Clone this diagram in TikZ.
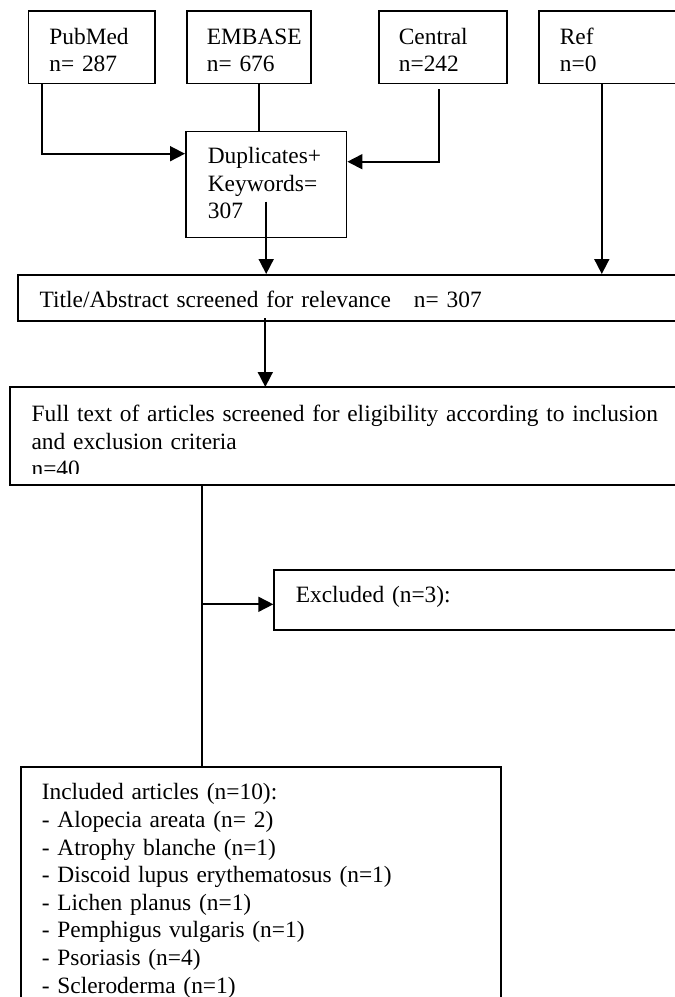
\documentclass[tikz,border=0pt]{standalone}
\usepackage{fontspec}
\setmainfont{Liberation Serif}
\usetikzlibrary{arrows.meta}

\tikzset{
  box/.style={draw, line width=1.7pt, anchor=north west, align=left,
    inner ysep=0pt, font={\fontsize{23.4}{27.6}\selectfont\hyphenpenalty=10000}},
  link/.style={line width=1.7pt},
  arr/.style={link, -{Triangle[length=15pt,width=15pt]}},
}

\begin{document}
\begin{tikzpicture}[x=1pt, y=-1pt]

      \useasboundingbox (0,0) rectangle (675,997);
      \clip (0,0) rectangle (675,997);

      % sources
      \node[box, inner xsep=21pt, text width=84.5pt, text height=33.3pt, text depth=39.2pt]
        (pub) at (27.5,10) {PubMed\\n= 287};
      \node[box, inner xsep=20pt, text width=84pt, text height=33.3pt, text depth=39.2pt]
        (emb) at (186,10) {EMBASE\\n= 676};
      \node[box, inner xsep=20pt, text width=88pt, text height=33.3pt, text depth=39.2pt]
        (cen) at (378,10) {Central\\n=242};
      \node[box, inner xsep=21pt, text width=158pt, text height=33.3pt, text depth=39.2pt]
        (ref) at (538,10) {Ref\\n=0};

      \node[box, inner xsep=22pt, text width=116.7pt, text height=32pt, text depth=74pt]
        (dup) at (185,130.7) {Duplicates+\\Keywords=\\307};

      % screening
      \node[box, inner xsep=21.5pt, text width=656pt, text height=32.5pt, text depth=13.5pt]
        (tit) at (17.3,274) {Title/Abstract screened for relevance\hspace{23pt}n= 307};

      \begin{scope}
        \clip (0,0) rectangle (675,473.3);
        \node[box, draw=none, inner xsep=20.7pt, text width=658.6pt, text height=33.7pt, text depth=62.8pt]
          (full) at (10,387) {Full text of articles screened for eligibility according to inclusion\\
            and exclusion criteria\\n=40};
      \end{scope}
      \draw[link] (full.north west) rectangle (full.south east);

      \node[box, inner xsep=21.7pt, text width=406.6pt, text height=32.4pt, text depth=27.3pt]
        (excl) at (273.3,569.3) {Excluded (n=3):};

      \node[box, inner xsep=21pt, text width=438pt, text height=33pt, text depth=267pt]
        (incl) at (20,766) {Included articles (n=10):\\
          - Alopecia areata (n= 2)\\
          - Atrophy blanche (n=1)\\
          - Discoid lupus erythematosus (n=1)\\
          - Lichen planus (n=1)\\
          - Pemphigus vulgaris (n=1)\\
          - Psoriasis (n=4)\\
          - Scleroderma (n=1)};

      % connectors
      \coordinate (pubdrop) at ([xshift=14.2pt]pub.south west);
      \coordinate (embdrop) at ([xshift=73.3pt]emb.south west);
      \coordinate (cendrop) at ([xshift=61pt,yshift=-5pt]cen.south west);
      \coordinate (refdrop) at ([xshift=63.8pt]ref.south west);
      \coordinate (dupout) at ([yshift=-71pt]dup.north);
      \coordinate (titout) at ([xshift=248pt,yshift=3.3pt]tit.south west);
      \coordinate (trunk) at ([xshift=192pt]full.south west);
      \coordinate (exclin) at ([yshift=-35pt]excl.north west);

      \draw[arr] (pubdrop) |- ([yshift=-23pt]dup.north west);
      \draw[link] (embdrop) -- (embdrop |- dup.north);
      \draw[arr] (cendrop) |- ([yshift=-31pt]dup.north east);
      \draw[arr] (dupout) -- (dupout |- tit.north);
      \draw[arr] (refdrop) -- (refdrop |- tit.north);
      \draw[arr] (titout) -- (titout |- full.north);
      \draw[link] (trunk) -- (trunk |- incl.north);
      \draw[arr] (trunk |- exclin) -- (exclin);

\end{tikzpicture}
\end{document}
